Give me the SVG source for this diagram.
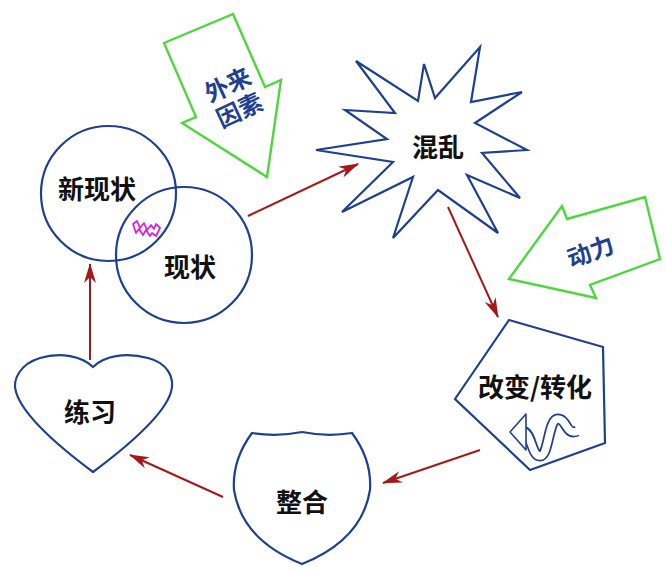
<svg xmlns="http://www.w3.org/2000/svg" width="665" height="571" viewBox="0 0 665 571">
<defs>
<style>
.node{fill:#fff;stroke:#1f3f8f;stroke-width:2.2}
.green{fill:#fff;stroke:#4cd83c;stroke-width:2.4}
.lbl{font-family:"Noto Sans CJK SC","Noto Sans",sans-serif;font-size:26px;font-weight:700;fill:#111;text-anchor:middle;dominant-baseline:central}
.blbl{font-family:"Noto Sans CJK SC","Noto Sans",sans-serif;font-size:24px;font-weight:700;fill:#1f3f8f;text-anchor:middle;dominant-baseline:central}
.conn{stroke:#a51818;stroke-width:2;fill:none;marker-end:url(#ah)}
</style>
<marker id="ah" viewBox="0 0 20 12" refX="19" refY="6" markerWidth="20" markerHeight="12" markerUnits="userSpaceOnUse" orient="auto">
<path d="M0,0 L20,6 L0,12 L6,6 Z" fill="#a51818"/>
</marker>
</defs>
<rect width="665" height="571" fill="#fff"/>

<g id="connectors">
<line class="conn" x1="90" y1="360" x2="90" y2="264"/>
<line class="conn" x1="248" y1="216" x2="358" y2="164"/>
<line class="conn" x1="448" y1="207" x2="498" y2="317"/>
<line class="conn" x1="480" y1="450" x2="383" y2="483"/>
<line class="conn" x1="223" y1="497" x2="130" y2="455"/>
</g>

<g id="external-factor">
<polygon class="green" points="164,43 233,14 265,87 281,80 267,177 182,123 196,117"/>
<g transform="translate(233,96) rotate(-25)">
<text class="blbl" x="0" y="-14">外来</text>
<text class="blbl" x="0" y="14">因素</text>
</g>
</g>

<g id="driving-force">
<polygon class="green" points="509,279 562,206 567,219 645,197 660,259 590,285 596,298"/>
<text class="blbl" transform="translate(590,250) rotate(-20)">动力</text>
</g>

<g id="new-status">
<circle class="node" cx="108.5" cy="193.5" r="67.5"/>
</g>
<g id="status">
<circle cx="184" cy="255" r="68" fill="none" stroke="#1f3f8f" stroke-width="2.2"/>
</g>
<g id="labels-circles">
<text class="lbl" x="97" y="187">新现状</text>
<text class="lbl" x="190" y="265">现状</text>
<path d="M133,224 L137,221 L140,228 L144,223 L147,230 L151,225 L154,229 L156,224 L160,228 L156,236 L152,233 L150,236 L146,230 L143,235 L139,229 L136,233 Z" fill="#fff" stroke="#e020d0" stroke-width="1.8" stroke-linejoin="round"/>
</g>

<g id="chaos">
<polygon class="node" points="356,61 418,101 424,64 435,98 480,47 471,102 522,92 475,123 527,150 482,153 520,198 467,175 498,233 438,190 393,238 413,177 342,212 393,162 316,150 387,139 345,110 395,113"/>
<text class="lbl" x="438" y="145">混乱</text>
</g>

<g id="change">
<polygon class="node" points="509,320 603,347 605,443 530,470 455,399"/>
<text class="lbl" x="535" y="385">改变/转化</text>
<path d="M522,431 C532,431 531,456 540,456 C549,456 548,419 558,419 C567,419 566,436 577,431" fill="none" stroke="#1f3f8f" stroke-width="11" stroke-linecap="butt"/>
<path d="M521,431 C532,431 531,456 540,456 C549,456 548,419 558,419 C567,419 566,436 578,431" fill="none" stroke="#fff" stroke-width="7.6" stroke-linecap="butt"/>
<polygon points="510,432 526,414 526,450" fill="#fff" stroke="#1f3f8f" stroke-width="1.6" stroke-linejoin="round"/>
</g>

<g id="integrate">
<path class="node" d="M252,433 Q277,437 302,432 Q327,437 352,433 Q372,460 370,490 Q362,540 302,564 Q242,540 234,490 Q232,460 252,433 Z"/>
<text class="lbl" x="302" y="500">整合</text>
</g>

<g id="practice">
<path class="node" d="M93,367 C82,356 60,352 40,358 C20,364 12,380 16,392 C22,412 50,440 93,472 C136,440 165,412 171,392 C175,378 168,363 148,358 C125,352 104,356 93,367 Z"/>
<text class="lbl" x="90" y="410">练习</text>
</g>
</svg>
